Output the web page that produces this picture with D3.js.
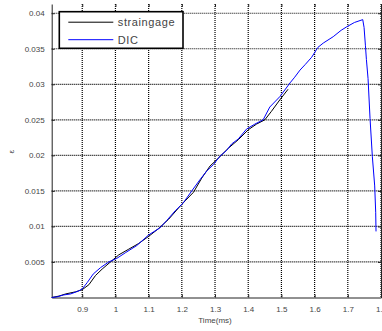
<!DOCTYPE html>
<meta charset="utf-8">
<style>
body { margin: 0; background: #fff; }
.tick text { font-family: "Liberation Sans", Arial, sans-serif; font-size: 8px; fill: #444; }
.grid line { stroke: #000; stroke-dasharray: 1,1; stroke-width: 1.2px; }
.line { fill: none; stroke-width: 1px; }
</style>
<body>
<script src="https://d3js.org/d3.v7.min.js"></script>
<script>

// straingage curve (time ms, strain)
var gageTime = [0.808, 0.830, 0.850, 0.880, 0.900, 0.920, 0.940, 0.960, 0.985, 1.010,
  1.040, 1.070, 1.100, 1.130, 1.160, 1.190, 1.210, 1.235, 1.260, 1.285,
  1.310, 1.340, 1.370, 1.400, 1.425, 1.450, 1.470, 1.495, 1.520];
var gageStrain = [0.0000, 0.0002, 0.0005, 0.0008, 0.0011, 0.0018, 0.0031, 0.0040, 0.0050, 0.0060,
  0.0068, 0.0076, 0.0086, 0.0097, 0.0110, 0.0126, 0.0136, 0.0148, 0.0168, 0.0185,
  0.0196, 0.0210, 0.0222, 0.0236, 0.0244, 0.0250, 0.0262, 0.0278, 0.0293];

// DIC curve
var dicTime = [0.808, 0.825, 0.843, 0.865, 0.888, 0.900, 0.915, 0.933, 0.955, 0.980,
  1.004, 1.030, 1.064, 1.100, 1.134, 1.154, 1.180, 1.204, 1.230, 1.255,
  1.275, 1.295, 1.315, 1.335, 1.350, 1.370, 1.395, 1.420, 1.445, 1.465,
  1.496, 1.526, 1.540, 1.556, 1.572, 1.591, 1.610, 1.626, 1.656, 1.680,
  1.697, 1.720, 1.745, 1.749, 1.753, 1.756, 1.761, 1.767, 1.774, 1.781,
  1.784, 1.785];
var dicStrain = [0.0000, 0.0001, 0.00035, 0.0005, 0.0009, 0.0012, 0.0021, 0.0033, 0.0042, 0.0050,
  0.0055, 0.0063, 0.0073, 0.0088, 0.0098, 0.0108, 0.0122, 0.0133, 0.0150, 0.0166,
  0.0178, 0.0187, 0.0199, 0.0207, 0.0216, 0.0223, 0.0237, 0.0244, 0.0250, 0.0268,
  0.0283, 0.0302, 0.0310, 0.0320, 0.0328, 0.0338, 0.0352, 0.0358, 0.0367, 0.0376,
  0.0381, 0.0387, 0.0391, 0.0380, 0.0355, 0.0335, 0.0308, 0.0252, 0.0198, 0.0157,
  0.0120, 0.0093];

var xTicks = [0.9, 1.0, 1.1, 1.2, 1.3, 1.4, 1.5, 1.6, 1.7, 1.8];
var yTicks = [0.005, 0.01, 0.015, 0.02, 0.025, 0.03, 0.035, 0.04];
var legendNames = ["straingage", "DIC"];
var legendColors = ["#000", "#0000ff"];

var margin = {top: 4, right: 1, bottom: 33.5, left: 51.7},
    width = 382 - margin.left - margin.right,
    height = 331 - margin.top - margin.bottom;

var x = d3.scaleLinear().domain([0.808, 1.8]).range([0, width]);
var y = d3.scaleLinear().domain([0, 0.0413]).range([height, 0]);

var svg = d3.select("body").append("svg")
    .attr("width", 382)
    .attr("height", 331)
  .append("g")
    .attr("transform", "translate(" + margin.left + "," + margin.top + ")");

// grid
svg.append("g").attr("class", "grid")
  .selectAll("line").data(xTicks).enter().append("line")
    .attr("x1", d => x(d)).attr("x2", d => x(d))
    .attr("y1", 0).attr("y2", height);
svg.append("g").attr("class", "grid")
  .selectAll("line").data(yTicks).enter().append("line")
    .attr("x1", 0).attr("x2", width)
    .attr("y1", d => y(d)).attr("y2", d => y(d));

// axes, ticks pointing inward
svg.append("g")
    .attr("transform", "translate(0," + height + ")")
    .call(d3.axisBottom(x).tickValues(xTicks).tickSizeInner(-3).tickSizeOuter(0)
      .tickPadding(9).tickFormat(d3.format("")));
svg.append("g")
    .call(d3.axisLeft(y).tickValues(yTicks).tickSizeInner(-3).tickSizeOuter(0)
      .tickPadding(7).tickFormat(d3.format("")));
svg.append("g")
    .call(d3.axisTop(x).tickValues(xTicks).tickSizeInner(-3).tickSizeOuter(0).tickFormat(""))
    .select(".domain").remove();
svg.append("g")
    .attr("transform", "translate(" + width + ",0)")
    .call(d3.axisRight(y).tickValues(yTicks).tickSizeInner(-3).tickSizeOuter(0).tickFormat(""));
svg.selectAll(".domain").attr("stroke", "#222");
svg.selectAll(".tick line").attr("stroke", "#222");

// curves
var gage = gageTime.map((t, i) => [t, gageStrain[i]]);
var dic = dicTime.map((t, i) => [t, dicStrain[i]]);
var line = d3.line().x(d => x(d[0])).y(d => y(d[1]));

svg.append("path").datum(gage).attr("class", "line")
    .attr("stroke", legendColors[0]).attr("d", line);
svg.append("path").datum(dic).attr("class", "line")
    .attr("stroke", legendColors[1]).attr("d", line);

// axis labels
svg.append("text")
    .attr("x", x(1.3)).attr("y", height + 25.5)
    .attr("text-anchor", "middle")
    .style("font-family", "Liberation Sans, Arial, sans-serif")
    .style("font-size", "8px").style("fill", "#444")
    .text("Time(ms)");
svg.append("text")
    .attr("transform", "translate(" + (-38) + "," + y(0.0205) + ") rotate(-90)")
    .attr("text-anchor", "middle")
    .style("font-family", "Liberation Sans, Arial, sans-serif")
    .style("font-size", "8px").style("fill", "#444")
    .text("ε");

// legend
var lg = svg.append("g").attr("transform", "translate(" + 7.6 + "," + 7.7 + ")");
lg.append("rect")
    .attr("width", 123.7).attr("height", 36.6)
    .attr("fill", "#fff").attr("stroke", "#000").attr("stroke-width", 1.6);
legendNames.forEach(function(name, i) {
  var ly = 10.5 + i * 17.5;
  lg.append("line")
      .attr("x1", 9).attr("x2", 54)
      .attr("y1", ly).attr("y2", ly)
      .attr("stroke", legendColors[i]).attr("stroke-width", 1);
  lg.append("text")
      .attr("x", 58.5).attr("y", ly + 4)
      .style("font-family", "Liberation Sans, Arial, sans-serif")
      .style("font-size", "11px").style("letter-spacing", "0.6px").style("fill", "#444")
      .text(name);
});

</script>
</body>
